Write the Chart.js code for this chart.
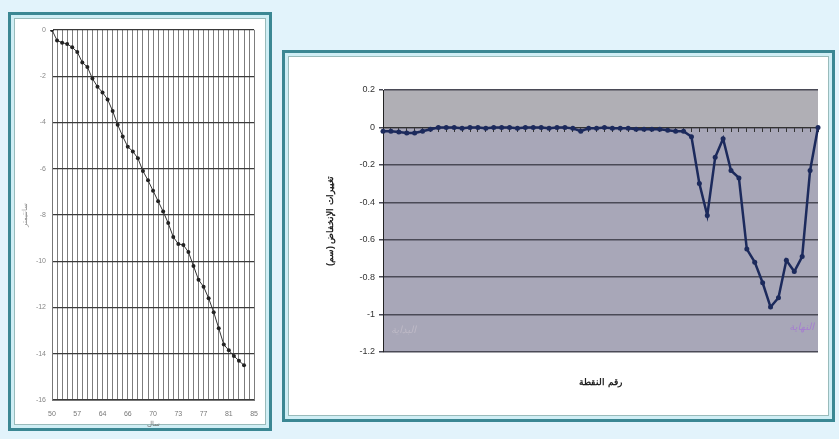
<!DOCTYPE html>
<html>
<head>
<meta charset="utf-8">
<script src="https://cdn.jsdelivr.net/npm/chart.js@4.4.1/dist/chart.umd.min.js"></script>
<style>
  body { margin: 0; width: 839px; height: 439px; overflow: hidden; position: relative; background: #e2f3fb; font-family: "Liberation Sans", Arial, sans-serif; }
  .frame { position: absolute; box-sizing: border-box; border: 3px solid #3b8793; background: #cfeef5; }
  .inner { position: absolute; left: 3px; top: 3px; right: 3px; bottom: 3px; background: #fff; border: 1px solid #9bb; }
  canvas { position: absolute; }
</style>
</head>
<body>
<div class="frame" style="left:8px;top:12px;width:264px;height:419px"><div class="inner"></div></div>
<div class="frame" style="left:282px;top:50px;width:553px;height:372px"><div class="inner"></div></div>
<canvas id="subsidenceChart" width="258" height="414" style="left:10px;top:14px"></canvas>
<canvas id="profileChart" width="536" height="352" style="left:292px;top:60px"></canvas>

<script>
// left chart: cumulative subsidence by year
const yearTicks = ["50", "57", "64", "66", "70", "73", "77", "81", "85"];
const yearSubsidence = [
  0, -0.45, -0.55, -0.6, -0.75, -0.95, -1.4, -1.6, -2.1, -2.45,
  -2.7, -3.0, -3.5, -4.1, -4.6, -5.05, -5.25, -5.55, -6.1, -6.5,
  -6.95, -7.4, -7.85, -8.35, -8.95, -9.25, -9.3, -9.6, -10.2, -10.8,
  -11.1, -11.6, -12.2, -12.9, -13.6, -13.85, -14.1, -14.3, -14.5
];

// right chart: change along the levelling line
const stationLabels = [
  1, 2, 3, 4, 5, 6, 7, 8, 9, 10, 11, 12, 13, 14, 15, 16, 17, 18, 19, 20,
  21, 22, 23, 24, 25, 26, 27, 28, 29, 30, 31, 32, 33, 34, 35, 36, 37, 38, 39, 40,
  41, 42, 43, 44, 45, 46, 47, 48, 49, 50, 51, 52, 53, 54, 55, 56
];
const profileChange = [
  -0.02, -0.02, -0.025, -0.03, -0.03, -0.02, -0.01, 0, 0, 0,
  -0.005, 0, 0, -0.005, 0, 0, 0, -0.005, 0, 0,
  0, -0.005, 0, 0, -0.005, -0.02, -0.005, -0.005, 0, -0.005,
  -0.005, -0.005, -0.01, -0.01, -0.01, -0.01, -0.015, -0.02, -0.02, -0.05,
  -0.3, -0.47, -0.16, -0.06, -0.23, -0.27, -0.65, -0.72, -0.83, -0.96,
  -0.91, -0.71, -0.77, -0.69, -0.23, 0
];
const cornerNotes = ["البداية", "النهاية"];

const yearCategories = [];
for (let i = 0; i <= 40; i++) {
  yearCategories.push(i % 5 === 0 ? yearTicks[i / 5] : "");
}

const plotBackground = {
  id: "plotBackground",
  beforeDraw(chart) {
    const { ctx, chartArea: a, scales } = chart;
    const zero = scales.y.getPixelForValue(0);
    ctx.save();
    ctx.fillStyle = "#a8a7b8";
    ctx.fillRect(a.left, a.top, a.width, a.height);
    ctx.fillStyle = "#b0afb5";
    ctx.fillRect(a.left, a.top, a.width, zero - a.top);
    ctx.restore();
  },
  afterDatasetsDraw(chart) {
    const { ctx, chartArea: a, scales } = chart;
    ctx.save();
    ctx.font = "italic 10px 'DejaVu Sans'";
    ctx.textAlign = "left";
    ctx.fillStyle = "#bdb9c6";
    ctx.fillText(cornerNotes[0], a.left + 8, scales.y.getPixelForValue(-1.1));
    ctx.textAlign = "right";
    ctx.fillStyle = "#a57fcf";
    ctx.fillText(cornerNotes[1], a.right - 4, scales.y.getPixelForValue(-1.08));
    ctx.restore();
  }
};

new Chart(document.getElementById("subsidenceChart"), {
  type: "line",
  data: {
    labels: yearCategories,
    datasets: [
      {
        data: yearSubsidence,
        borderColor: "#333",
        borderWidth: 1,
        pointRadius: 2,
        pointBackgroundColor: "#222",
        pointBorderWidth: 0,
        tension: 0,
      },
    ],
  },
  options: {
    responsive: false,
    animation: false,
    devicePixelRatio: 1,
    layout: { padding: { top: 16, right: 10, left: 0, bottom: 0 } },
    plugins: { legend: { display: false }, tooltip: { enabled: false } },
    scales: {
      x: {
        grid: { color: "#7d7d7d", lineWidth: 1, drawTicks: false },
        border: { color: "#777" },
        ticks: { autoSkip: false, maxRotation: 0, padding: 10, color: "#777", font: { size: 7 } },
        title: { display: true, text: "سال", color: "#777", font: { size: 7 }, padding: 0 },
        afterFit(s) { s.height = 28; },
      },
      y: {
        min: -16,
        max: 0,
        ticks: { stepSize: 2, padding: 6, color: "#888", font: { size: 7 } },
        grid: { color: "#3a3a3a", lineWidth: 1.2, drawTicks: false },
        border: { color: "#777" },
        title: { display: true, text: "سانتیمتر", color: "#888", font: { size: 7 }, padding: { top: 11, bottom: 0 } },
        afterFit(s) { s.width = 42; },
      },
    },
  },
});

new Chart(document.getElementById("profileChart"), {
  type: "line",
  data: {
    labels: stationLabels,
    datasets: [
      {
        data: profileChange,
        borderColor: "#1c2a5c",
        borderWidth: 2.5,
        pointRadius: 2.5,
        pointBackgroundColor: "#1c2a5c",
        pointBorderWidth: 0,
        tension: 0,
      },
    ],
  },
  options: {
    responsive: false,
    animation: false,
    devicePixelRatio: 1,
    layout: { padding: { top: 30, right: 10, left: 0, bottom: 24 } },
    plugins: { legend: { display: false }, tooltip: { enabled: false } },
    scales: {
      x: {
        ticks: { display: false },
        grid: { display: false },
        border: { display: false },
        title: { display: true, text: "رقم النقطة", color: "#222", font: { size: 9, weight: "bold" }, padding: 0 },
        afterFit(s) { s.height = 36; },
      },
      x2: {
        type: "category",
        position: { y: 0 },
        ticks: { display: false },
        grid: { drawOnChartArea: false, color: "#333", tickLength: 4 },
        border: { color: "#333" },
        afterFit(s) { s.height = 0; },
      },
      y: {
        min: -1.2,
        max: 0.2,
        ticks: {
          stepSize: 0.2,
          padding: 4,
          color: "#333",
          font: { size: 9 },
          callback: (v) => String(Math.round(v * 10) / 10),
        },
        grid: { color: "#4a4a56", lineWidth: 1.5, tickLength: 4 },
        border: { color: "#222" },
        title: { display: true, text: "تغييرات الإنخفاض (سم)", color: "#222", font: { size: 9, weight: "bold" }, padding: { top: 33, bottom: 0 } },
        afterFit(s) { s.width = 91; },
      },
    },
  },
  plugins: [plotBackground],
});
</script>
</body>
</html>
